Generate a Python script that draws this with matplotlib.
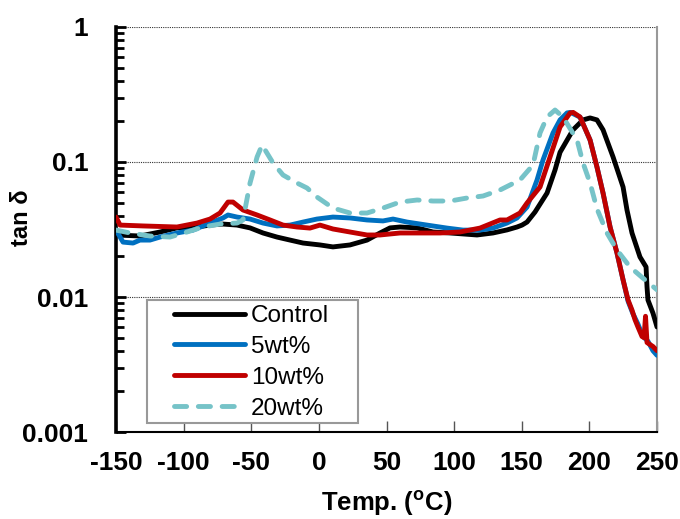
import matplotlib.pyplot as plt
from matplotlib.patches import Rectangle
from matplotlib.ticker import LogLocator, NullFormatter, FixedLocator

plt.rcParams["font.family"] = ["Liberation Sans", "DejaVu Sans"]
plt.rcParams["mathtext.fontset"] = "custom"
plt.rcParams["mathtext.rm"] = "Liberation Sans:bold"
plt.rcParams["mathtext.bf"] = "Liberation Sans:bold"
plt.rcParams["axes.unicode_minus"] = False

# Control
t_ctrl = [-150, -132.3, -117.5, -104.9, -90.1, -80.5, -70.9, -60.5, -50.9, -41.3,
          -31.0, -21.3, -11.7, 0.8, 10.4, 23.0, 35.6, 45.2, 52.6, 60.0,
          72.6, 84.4, 97.0, 116.9, 128.7, 139.1, 146.5, 150.2, 153.9, 159.8,
          168.7, 174.6, 178.3, 187.9, 195.3, 200.5, 205.6, 210.1, 217.5, 224.9,
          227.8, 231.5, 237.4, 241.9, 242.6, 243.3, 247.0, 250.0]
v_ctrl = [0.0288, 0.0283, 0.0303, 0.0325, 0.0330, 0.0341, 0.0347, 0.0341, 0.0325, 0.0298,
          0.0278, 0.0264, 0.0251, 0.0243, 0.0235, 0.0243, 0.0264, 0.0298, 0.0325, 0.0330,
          0.0325, 0.0303, 0.0298, 0.0288, 0.0298, 0.0314, 0.0330, 0.0341, 0.0359, 0.0426,
          0.0589, 0.0873, 0.118, 0.173, 0.205, 0.212, 0.205, 0.173, 0.109, 0.0653,
          0.0441, 0.0298, 0.0198, 0.0167, 0.0119, 0.0095, 0.0076, 0.0060]

# 5wt%
t_5 = [-150, -144.8, -137.4, -132.3, -124.9, -117.5, -104.9, -93.1, -80.5, -70.9,
       -67.2, -60.5, -50.9, -41.3, -31.0, -21.3, -11.7, -1.4, 10.4, 23.0,
       35.6, 47.4, 54.8, 65.2, 79.9, 94.7, 106.6, 119.1, 128.7, 139.1,
       146.5, 153.9, 161.3, 165.7, 173.1, 178.3, 183.5, 186.0, 193.1, 200.5,
       205.6, 210.1, 215.3, 220.4, 224.9, 228.6, 232.0, 235.9, 239.6, 243.3,
       247.0, 250.0]
v_5 = [0.0313, 0.0255, 0.0251, 0.0264, 0.0264, 0.0278, 0.0298, 0.0313, 0.0353, 0.0385,
       0.0405, 0.0391, 0.0378, 0.0353, 0.0336, 0.0341, 0.0359, 0.0378, 0.0391, 0.0385,
       0.0372, 0.0366, 0.0378, 0.0359, 0.0341, 0.0324, 0.0313, 0.0313, 0.0324, 0.0353,
       0.0385, 0.0464, 0.0736, 0.1035, 0.164, 0.205, 0.231, 0.233, 0.215, 0.1455,
       0.0918, 0.0589, 0.0330, 0.0212, 0.0134, 0.0093, 0.0076, 0.0063, 0.0051, 0.0047,
       0.0040, 0.0037]

# 10wt%
t_10 = [-150, -147.0, -130.0, -104.9, -90.1, -80.5, -73.1, -67.2, -63.5, -56.1,
        -45.7, -36.1, -26.5, -16.2, -6.6, 0.8, 10.4, 23.0, 35.6, 45.2,
        60.0, 74.8, 89.6, 104.3, 119.1, 133.9, 139.1, 148.7, 153.9, 163.5,
        170.9, 178.3, 185.7, 188.0, 193.1, 200.5, 205.6, 210.1, 215.3, 220.4,
        224.9, 228.6, 231.5, 233.7, 235.9, 238.9, 240.4, 241.5, 242.6, 247.0,
        250.0]
v_10 = [0.0391, 0.0341, 0.0336, 0.0330, 0.0353, 0.0378, 0.0419, 0.0505, 0.0505, 0.0441,
        0.0405, 0.0372, 0.0341, 0.0330, 0.0324, 0.0341, 0.0319, 0.0303, 0.0288, 0.0288,
        0.0298, 0.0298, 0.0298, 0.0303, 0.0324, 0.0372, 0.0372, 0.0419, 0.0497, 0.0653,
        0.1089, 0.1816, 0.2307, 0.233, 0.2154, 0.1455, 0.0918, 0.0589, 0.0330, 0.0212,
        0.0134, 0.0095, 0.0080, 0.0068, 0.0060, 0.0051, 0.0050, 0.0072, 0.0046, 0.0043,
        0.0040]

# 20wt%
t_20 = [-150, -139.6, -124.9, -110.1, -97.5, -85.7, -73.1, -60.5, -56.1, -50.9,
        -45.7, -42.0, -33.9, -26.5, -16.2, -8.8, -1.4, 10.4, 23.0, 35.6,
        47.4, 60.0, 72.6, 84.4, 97.0, 109.5, 121.4, 133.9, 148.7, 158.3,
        163.5, 168.7, 174.6, 180.5, 190.9, 195.3, 200.5, 205.6, 213.0, 220.4,
        230.0, 239.6, 250.0]
v_20 = [0.0313, 0.0298, 0.0283, 0.0278, 0.0303, 0.0330, 0.0347, 0.0353, 0.0372, 0.0699,
        0.1089, 0.1336, 0.0983, 0.0801, 0.0699, 0.0642, 0.0550, 0.0456, 0.0419, 0.0419,
        0.0456, 0.0505, 0.0523, 0.0514, 0.0514, 0.0541, 0.0560, 0.0620, 0.0736, 0.0950,
        0.164, 0.2154, 0.2427, 0.2154, 0.1455, 0.0983, 0.0699, 0.045, 0.0298, 0.0223,
        0.0167, 0.0138, 0.0113]

x_ticks = [-150, -100, -50, 0, 50, 100, 150, 200, 250]
y_ticks = [0.001, 0.01, 0.1, 1]
y_tick_labels = ["0.001", "0.01", "0.1", "1"]

fig = plt.figure(figsize=(6.8, 5.19), dpi=100)
ax = fig.add_axes([0.1706, 0.1676, 0.7956, 0.7804])

lw = 3.5
ax.plot(t_ctrl, v_ctrl, color="black", lw=lw, label="Control", solid_capstyle="round", zorder=3)
ax.plot(t_5, v_5, color="#0070C0", lw=lw, label="5wt%", solid_capstyle="round", zorder=4)
ax.plot(t_10, v_10, color="#C00000", lw=lw, label="10wt%", solid_capstyle="round", zorder=5)
ax.plot(t_20, v_20, color="#76C3C8", lw=lw, label="20wt%", dashes=(2.5, 2.4),
        dash_capstyle="round", zorder=6)

ax.set_yscale("log")
ax.set_xlim(-150, 250)
ax.set_ylim(0.001, 1)

ax.xaxis.set_major_locator(FixedLocator(x_ticks))
ax.set_yticks(y_ticks)
ax.set_yticklabels(y_tick_labels)
ax.yaxis.set_minor_locator(LogLocator(base=10, subs=range(2, 10)))
ax.yaxis.set_minor_formatter(NullFormatter())

ax.tick_params(axis="y", which="major", direction="in", length=7, width=2, pad=20,
               labelsize=19)
ax.tick_params(axis="y", which="minor", direction="in", length=6, width=2)
ax.tick_params(axis="x", which="major", direction="in", length=8, width=1, color="#555555",
               pad=14, labelsize=19)
for lab in ax.get_xticklabels() + ax.get_yticklabels():
    lab.set_fontweight("bold")

ax.grid(True, axis="y", which="major", linestyle=(0, (1, 1)), linewidth=0.8, color="#333333")

ax.spines["left"].set_linewidth(2.6)
ax.spines["bottom"].set_linewidth(1.5)
ax.spines["top"].set_visible(False)
ax.spines["right"].set_color("#999999")
ax.spines["right"].set_linewidth(1.5)

ax.set_xlabel(r"Temp. ($\mathregular{^o}$C)", fontsize=18.5, fontweight="bold", labelpad=10)
ax.set_ylabel("tan δ", fontsize=17, fontweight="bold")
ax.yaxis.set_label_coords(-0.153, 0.53)

# legend frame drawn separately so it can be wider than its entries
ax.add_patch(Rectangle((0.057, 0.022), 0.39, 0.304, transform=ax.transAxes,
                       facecolor="white", edgecolor="#999999", linewidth=1.5, zorder=2))
leg = ax.legend(loc="center left", bbox_to_anchor=(0.108, 0.172), borderaxespad=0,
                fontsize=17.5, handlelength=2.9, handletextpad=0.25, labelspacing=0.36,
                borderpad=0, frameon=False)
leg.set_zorder(2.5)

fig.savefig("out.png", dpi=100)
